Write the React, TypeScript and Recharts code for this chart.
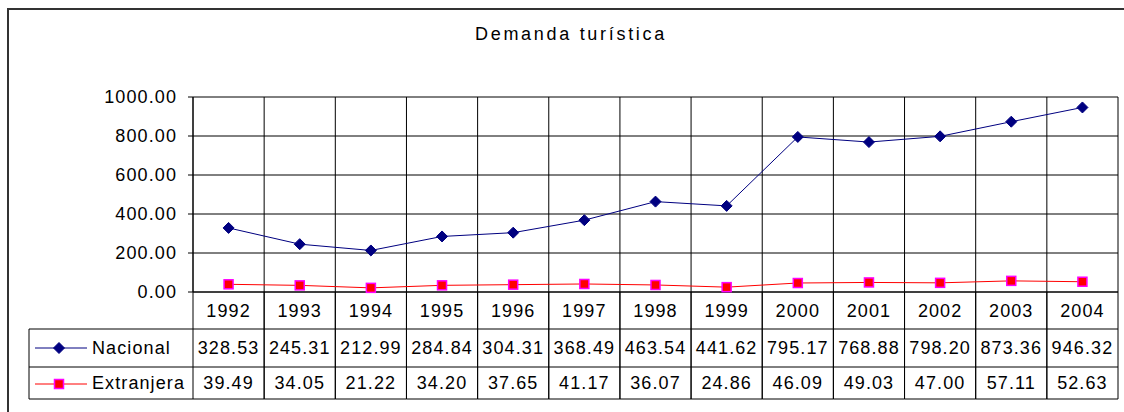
import { LineChart, Line, XAxis, YAxis, CartesianGrid } from "recharts";

const years = ["1992", "1993", "1994", "1995", "1996", "1997", "1998", "1999", "2000", "2001", "2002", "2003", "2004"];
const nacional = [328.53, 245.31, 212.99, 284.84, 304.31, 368.49, 463.54, 441.62, 795.17, 768.88, 798.2, 873.36, 946.32];
const extranjera = [39.49, 34.05, 21.22, 34.2, 37.65, 41.17, 36.07, 24.86, 46.09, 49.03, 47.0, 57.11, 52.63];
const yTicks = [0, 200, 400, 600, 800, 1000];

const data = years.map((year, i) => ({ year, nacional: nacional[i], extranjera: extranjera[i] }));

const W = 1124;
const H = 412;
const MARGIN = { top: 97, right: 6, bottom: 13, left: 93 };
const Y_AXIS_W = 100;
const X_AXIS_H = 107;
const PLOT_W = W - MARGIN.left - Y_AXIS_W - MARGIN.right;
const BW = PLOT_W / years.length;
const TABLE_LEFT = 29;

const FONT = "'Liberation Sans', Arial, sans-serif";
const NAVY = "#000080";
const RED = "#FF0000";
const MAGENTA = "#FF00FF";

const textStyle = { fontFamily: FONT, fontSize: 18, letterSpacing: 1.1, fill: "#000" };

function Diamond({ cx, cy, r = 5.5 }: { cx: number; cy: number; r?: number }) {
  return <polygon points={`${cx},${cy - r} ${cx + r},${cy} ${cx},${cy + r} ${cx - r},${cy}`} fill={NAVY} stroke={NAVY} strokeWidth={1} />;
}

function Square({ cx, cy, r = 4.5 }: { cx: number; cy: number; r?: number }) {
  return <rect x={cx - r} y={cy - r} width={r * 2} height={r * 2} fill={RED} stroke={MAGENTA} strokeWidth={1.5} />;
}

function TableTick(props: any) {
  const { x, y, payload, index } = props;
  const left = x - BW / 2;
  const right = x + BW / 2;
  const line = { stroke: "#000", strokeWidth: 1 };
  return (
    <g>
      <line x1={left} x2={left} y1={y} y2={y + 107} {...line} />
      <line x1={right} x2={right} y1={y} y2={y + 107} {...line} />
      <line x1={left} x2={right} y1={y + 37} y2={y + 37} {...line} />
      <line x1={left} x2={right} y1={y + 75} y2={y + 75} {...line} />
      <line x1={left} x2={right} y1={y + 107} y2={y + 107} {...line} />
      <text x={x} y={y + 25} textAnchor="middle" style={textStyle}>{payload.value}</text>
      <text x={x} y={y + 62} textAnchor="middle" style={textStyle}>{nacional[index].toFixed(2)}</text>
      <text x={x} y={y + 97} textAnchor="middle" style={textStyle}>{extranjera[index].toFixed(2)}</text>
      {index === 0 && (
        <g>
          <line x1={TABLE_LEFT} x2={left} y1={y + 37} y2={y + 37} {...line} />
          <line x1={TABLE_LEFT} x2={left} y1={y + 75} y2={y + 75} {...line} />
          <line x1={TABLE_LEFT} x2={left} y1={y + 107} y2={y + 107} {...line} />
          <line x1={TABLE_LEFT} x2={TABLE_LEFT} y1={y + 37} y2={y + 107} {...line} />
          <line x1={35} x2={87} y1={y + 56} y2={y + 56} stroke={NAVY} strokeWidth={1} />
          <Diamond cx={59} cy={y + 56} />
          <text x={92} y={y + 62} style={textStyle}>Nacional</text>
          <line x1={35} x2={87} y1={y + 92} y2={y + 92} stroke={RED} strokeWidth={1} />
          <Square cx={59} cy={y + 92} />
          <text x={92} y={y + 97} style={textStyle}>Extranjera</text>
        </g>
      )}
    </g>
  );
}

export default function App() {
  return (
    <div style={{ position: "fixed", left: 0, top: 0, width: W, height: H, background: "#fff", overflow: "hidden" }}>
      <div
        style={{
          position: "absolute",
          left: 7,
          top: 8,
          width: W,
          height: H,
          borderLeft: "2px solid #333",
          borderTop: "2px solid #333",
        }}
      />
      <div
        style={{
          position: "absolute",
          left: 371,
          top: 22,
          width: 400,
          textAlign: "center",
          fontFamily: FONT,
          fontSize: 18,
          letterSpacing: 2.7,
          lineHeight: "24px",
          color: "#000",
        }}
      >
        Demanda turística
      </div>
      <div style={{ position: "absolute", left: 0, top: 0 }}>
        <LineChart width={W} height={H} data={data} margin={MARGIN}>
          <CartesianGrid
            stroke="#000"
            strokeWidth={1}
            verticalCoordinatesGenerator={({ offset }: any) =>
              [...years.map((_, i) => offset.left + (i * offset.width) / years.length), offset.left + offset.width]
            }
          />
          <XAxis
            dataKey="year"
            height={X_AXIS_H}
            padding={{ left: BW / 2, right: BW / 2 }}
            tickSize={0}
            tickMargin={0}
            tickLine={false}
            axisLine={{ stroke: "#000" }}
            interval={0}
            tick={TableTick}
          />
          <YAxis
            width={Y_AXIS_W}
            domain={[0, 1000]}
            ticks={yTicks}
            tickFormatter={(v: number) => v.toFixed(2)}
            tickSize={5}
            tickMargin={11}
            axisLine={{ stroke: "#000" }}
            tickLine={{ stroke: "#000" }}
            tick={textStyle}
          />
          <Line
            dataKey="nacional"
            type="linear"
            stroke={NAVY}
            strokeWidth={1}
            isAnimationActive={false}
            dot={(p: any) => <Diamond key={p.index} cx={p.cx} cy={p.cy} />}
            activeDot={false}
          />
          <Line
            dataKey="extranjera"
            type="linear"
            stroke={RED}
            strokeWidth={1}
            isAnimationActive={false}
            dot={(p: any) => <Square key={p.index} cx={p.cx} cy={p.cy} />}
            activeDot={false}
          />
        </LineChart>
      </div>
    </div>
  );
}
